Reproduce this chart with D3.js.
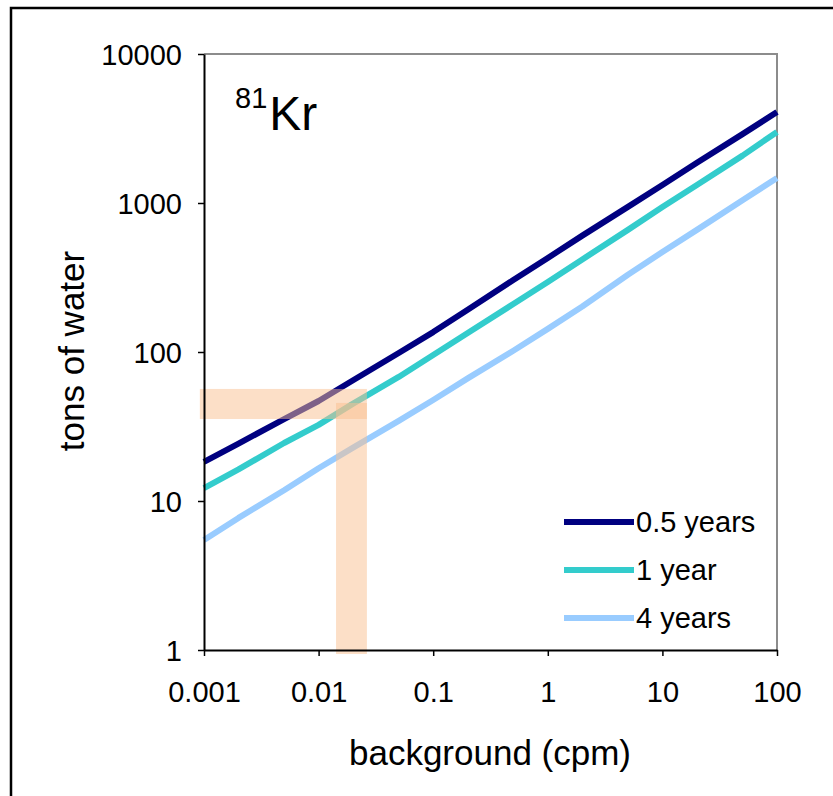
<!DOCTYPE html>
<html>
<head>
<meta charset="utf-8">
<script src="https://cdn.jsdelivr.net/npm/d3@7"></script>
<style>
  html, body { margin: 0; padding: 0; background: #fff; }
  svg { display: block; font-family: "Liberation Sans", Arial, sans-serif; }
</style>
</head>
<body>
<svg id="chart" width="833" height="796"></svg>
<script>
// Background count rate (cpm)
const background = [0.001, 0.002, 0.005, 0.01, 0.02, 0.05, 0.1, 0.2, 0.5, 1, 2, 5, 10, 20, 50, 100];

// Tons of water needed for each counting time
const halfYear = [18.3, 24.3, 35.4, 46.9, 64.6, 98.5, 136, 192, 304, 428, 604, 942, 1321, 1860, 2900, 4080];
const oneYear  = [12.2, 16.3, 24.5, 32.4, 45, 68, 95.6, 134, 210, 295, 418, 660, 940, 1320, 2080, 3000];
const fourYears = [5.47, 7.7, 11.8, 16.6, 22.8, 34.5, 47.6, 66.5, 102, 143, 202, 330, 469, 660, 1045, 1472];

const seriesNames = ["0.5 years", "1 year", "4 years"];
const seriesColors = ["#000080", "#33CCCC", "#99CCFF"];

const xTicks = [0.001, 0.01, 0.1, 1, 10, 100];
const xTickLabels = ["0.001", "0.01", "0.1", "1", "10", "100"];
const yTicks = [1, 10, 100, 1000, 10000];
const yTickLabels = ["1", "10", "100", "1000", "10000"];

// Highlighted example: ~0.02 cpm background, ~45 tons for one year
const bandX = [0.00092, 0.0264];
const bandY = [35.5, 56.5];
const stemX = [0.0142, 0.0264];
const stemY = [0.94, 45.5];

const svg = d3.select("#chart");

const plot = { left: 204, right: 777, top: 54, bottom: 650 };

const x = d3.scaleLog().domain([0.001, 100]).range([plot.left, plot.right]);
const y = d3.scaleLog().domain([1, 10000]).range([plot.bottom, plot.top]);

// outer frame
svg.append("rect")
  .attr("x", 11).attr("y", 8).attr("width", 900).attr("height", 900)
  .attr("fill", "none").attr("stroke", "#000").attr("stroke-width", 2.5);

// plot frame (top and right in gray)
svg.append("path")
  .attr("d", `M${plot.left},${plot.top}H${plot.right}V${plot.bottom}`)
  .attr("fill", "none").attr("stroke", "#8c8c8c").attr("stroke-width", 2);

// series lines
const series = [halfYear, oneYear, fourYears];
const line = d3.line()
  .x((d, i) => x(background[i]))
  .y(d => y(d));

svg.append("g").selectAll("path")
  .data(series)
  .join("path")
  .attr("d", d => line(d))
  .attr("fill", "none")
  .attr("stroke", (d, i) => seriesColors[i])
  .attr("stroke-width", 6)
  .attr("stroke-linejoin", "round")
  .attr("stroke-linecap", "butt");

// translucent highlight bands
const bandFill = "#F9BF8F";
svg.append("rect")
  .attr("x", x(bandX[0])).attr("y", y(bandY[1]))
  .attr("width", x(bandX[1]) - x(bandX[0]))
  .attr("height", y(bandY[0]) - y(bandY[1]))
  .attr("fill", bandFill).attr("fill-opacity", 0.5);
svg.append("rect")
  .attr("x", x(stemX[0])).attr("y", y(stemY[1]))
  .attr("width", x(stemX[1]) - x(stemX[0]))
  .attr("height", y(stemY[0]) - y(stemY[1]))
  .attr("fill", bandFill).attr("fill-opacity", 0.5);

// axes
const xAxis = d3.axisBottom(x)
  .tickValues(xTicks)
  .tickFormat((d, i) => xTickLabels[i])
  .tickSize(6).tickPadding(25).tickSizeOuter(0);
const gx = svg.append("g")
  .attr("transform", `translate(0,${plot.bottom})`)
  .call(xAxis);

const yAxis = d3.axisLeft(y)
  .tickValues(yTicks)
  .tickFormat((d, i) => yTickLabels[i])
  .tickSize(6).tickPadding(16).tickSizeOuter(0);
const gy = svg.append("g")
  .attr("transform", `translate(${plot.left},0)`)
  .call(yAxis);

[gx, gy].forEach(g => {
  g.select(".domain").attr("stroke", "#000").attr("stroke-width", 2);
  g.selectAll(".tick line").attr("stroke", "#000").attr("stroke-width", 1.5);
  g.selectAll(".tick text")
    .attr("fill", "#000")
    .attr("font-family", "'Liberation Sans', Arial, sans-serif")
    .attr("font-size", 29);
});
gx.selectAll(".tick text").attr("dy", "0.71em");
gy.selectAll(".tick text").attr("dy", "0.36em");

// axis titles
svg.append("text")
  .attr("x", 490).attr("y", 765)
  .attr("text-anchor", "middle")
  .attr("font-size", 35)
  .text("background (cpm)");

svg.append("text")
  .attr("transform", "translate(84,351) rotate(-90)")
  .attr("text-anchor", "middle")
  .attr("font-size", 35)
  .text("tons of water");

// isotope label
const iso = svg.append("text").attr("x", 235).attr("y", 130);
iso.append("tspan").attr("font-size", 29).attr("dy", -22).text("81");
iso.append("tspan").attr("font-size", 48).attr("dx", 2).attr("dy", 22).text("Kr");

// legend
const legendY = [522, 570, 618];
const legend = svg.append("g");
seriesNames.forEach((name, i) => {
  legend.append("line")
    .attr("x1", 564).attr("x2", 634)
    .attr("y1", legendY[i]).attr("y2", legendY[i])
    .attr("stroke", seriesColors[i]).attr("stroke-width", 6);
  legend.append("text")
    .attr("x", 636).attr("y", legendY[i])
    .attr("dy", "0.36em")
    .attr("font-size", 29)
    .text(name);
});
</script>
</body>
</html>
